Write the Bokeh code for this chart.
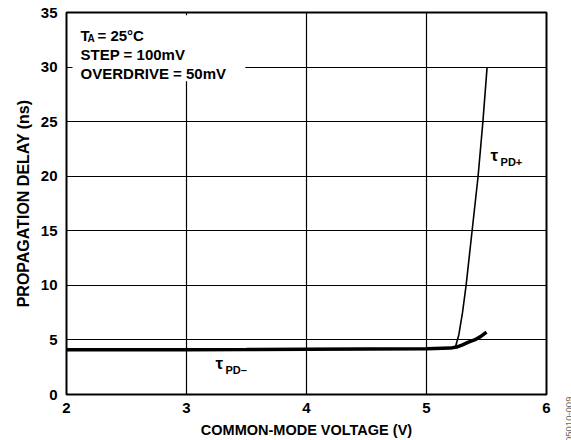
from bokeh.plotting import figure
from bokeh.models import Range1d, FixedTicker, Label, BoxAnnotation, Div
from bokeh.layouts import row
from bokeh.embed import file_html
from bokeh.resources import INLINE

# data
vcm_minus = [2.0, 2.5, 3.0, 3.5, 4.0, 4.5, 5.0, 5.2, 5.25, 5.3, 5.35, 5.4, 5.45, 5.5]
tpd_minus = [4.1, 4.1, 4.1, 4.12, 4.15, 4.18, 4.2, 4.25, 4.35, 4.55, 4.8, 5.0, 5.3, 5.72]
vcm_plus = [5.24, 5.27, 5.30, 5.33, 5.38, 5.43, 5.47, 5.505]
tpd_plus = [4.3, 5.5, 7.5, 10.0, 15.0, 20.0, 25.0, 30.0]
x_ticks = [2, 3, 4, 5, 6]
y_ticks = [0, 5, 10, 15, 20, 25, 30, 35]
doc_code = "05010-009"

FONT = "Liberation Sans"

fig = figure(width=556, height=440, output_backend="svg", toolbar_location=None,
             x_range=Range1d(2, 6), y_range=Range1d(0, 35),
             min_border_left=66, min_border_right=10, min_border_top=12, min_border_bottom=46)
fig.background_fill_color = "white"
fig.border_fill_color = "white"
fig.outline_line_color = "black"
fig.outline_line_width = 2

fig.xaxis.ticker = FixedTicker(ticks=x_ticks)
fig.yaxis.ticker = FixedTicker(ticks=y_ticks)
fig.xgrid.ticker = FixedTicker(ticks=x_ticks)
fig.ygrid.ticker = FixedTicker(ticks=y_ticks)
for g in (fig.xgrid, fig.ygrid):
    g.grid_line_color = "black"
    g.grid_line_width = 1.2
    g.grid_line_alpha = 1.0

for ax in (fig.xaxis, fig.yaxis):
    ax.axis_line_color = None
    ax.major_tick_line_color = None
    ax.minor_tick_line_color = None
    ax.major_tick_out = 0
    ax.major_tick_in = 0
    ax.major_label_text_font = FONT
    ax.major_label_text_font_style = "bold"
    ax.major_label_text_font_size = "15px"
    ax.major_label_text_color = "black"
    ax.axis_label_text_font = FONT
    ax.axis_label_text_font_style = "bold"
    ax.axis_label_text_color = "black"

fig.xaxis.axis_label = "COMMON-MODE VOLTAGE (V)"
fig.yaxis.axis_label = "PROPAGATION DELAY (ns)"
fig.xaxis.axis_label_text_font_size = "14.5px"
fig.yaxis.axis_label_text_font_size = "16px"
fig.xaxis.major_label_standoff = 8
fig.yaxis.major_label_standoff = 9
fig.xaxis.axis_label_standoff = 6
fig.yaxis.axis_label_standoff = 6

fig.line(vcm_plus, tpd_plus, line_color="black", line_width=1.6)
fig.line(vcm_minus, tpd_minus, line_color="black", line_width=3.5)

# white box behind the conditions text
fig.add_layout(BoxAnnotation(left=2.05, right=3.49, bottom=28.7, top=34.75,
                             fill_color="white", fill_alpha=1.0, line_color=None))

def lab(x, y, text, size="15px", **kw):
    fig.add_layout(Label(x=x, y=y, text=text, text_font=FONT, text_font_style="bold",
                         text_font_size=size, text_color="black",
                         text_baseline="alphabetic", **kw))

lab(2.117, 32.9, "T")
lab(2.176, 32.65, "A", size="10px")
lab(2.258, 32.9, "= 25°C")
lab(2.117, 31.16, "STEP = 100mV")
lab(2.117, 29.45, "OVERDRIVE = 50mV")

lab(5.533, 21.9, "τ", size="17px")
lab(5.617, 21.3, "PD+", size="11px")
lab(3.242, 2.84, "τ", size="17px")
lab(3.325, 2.25, "PD–", size="11px")

# document code, rotated, at the lower right edge
code = Div(width=15, height=440,
           text=('<div style="position:absolute; left:3px; top:437px; '
                 'transform:rotate(-90deg); transform-origin:0 0; '
                 "font-family:'Liberation Sans'; font-size:9.5px; line-height:10px; "
                 'color:#666666; white-space:nowrap;">' + doc_code + '</div>'),
           styles={"background-color": "white"})

p = row(fig, code)

open("out.html", "w").write(file_html(p, INLINE))
